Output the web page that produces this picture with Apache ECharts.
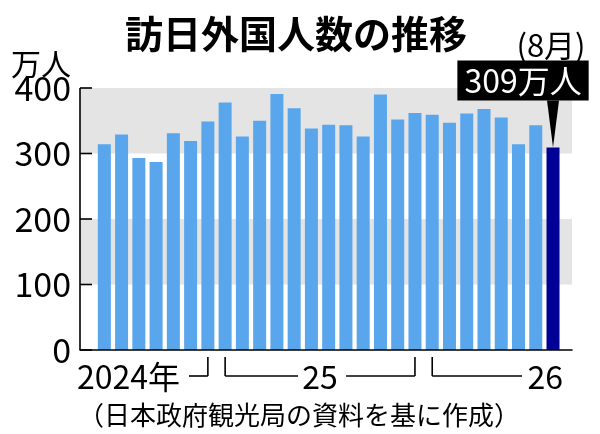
<!DOCTYPE html>
<html>
<head>
<meta charset="utf-8">
<script src="https://cdn.jsdelivr.net/npm/echarts@6/dist/echarts.min.js"></script>
<style>
  html, body { margin: 0; padding: 0; background: #fff; }
  #chart { width: 600px; height: 434px; }
</style>
</head>
<body>
<div id="chart"></div>
<script>
// 月（2024年6月〜2026年8月）
const months = [
    '2024-06', '2024-07', '2024-08', '2024-09', '2024-10', '2024-11', '2024-12',
    '2025-01', '2025-02', '2025-03', '2025-04', '2025-05', '2025-06',
    '2025-07', '2025-08', '2025-09', '2025-10', '2025-11', '2025-12',
    '2026-01', '2026-02', '2026-03', '2026-04', '2026-05', '2026-06', '2026-07', '2026-08',
];
// 訪日外国人数（万人）
const visitors = [
    314, 329, 293, 287, 331, 319, 349,
    378, 326, 350, 391, 369, 338,
    344, 343, 326, 390, 352, 362,
    359, 347, 361, 368, 355, 314, 343, 309,
];
const yTicks = [0, 100, 200, 300, 400];
const yearLabels = { '2024': '2024年', '2025': '25', '2026': '26' };

const FONT = "'Noto Sans CJK JP', sans-serif";
const last = visitors.length - 1;
const yMin = yTicks[0];
const yMax = yTicks[yTicks.length - 1];
const GRID = { left: 80, right: 28, top: 88, bottom: 84 };

const chart = echarts.init(document.getElementById('chart'), null, { renderer: 'canvas' });

chart.setOption({
    animation: false,
    grid: GRID,
    xAxis: {
        type: 'value',
        z: 3,
        min: -1.41,
        max: 27.1,
        axisLine: { show: true, onZero: false, lineStyle: { color: '#000', width: 1.6 } },
        axisTick: { show: false },
        axisLabel: { show: false },
        splitLine: { show: false },
    },
    yAxis: {
        type: 'value',
        min: yMin,
        max: yMax,
        interval: 100,
        axisLine: { show: false, onZero: false },
        axisTick: { show: false },
        axisLabel: { color: '#000', fontSize: 34, fontFamily: FONT, margin: 9 },
        splitLine: { show: false },
        splitArea: { show: true, areaStyle: { color: ['#ffffff', '#e4e4e4'] } },
    },
    series: [
        {
            type: 'bar',
            barWidth: 13,
            itemStyle: { color: '#5aa6ec' },
            data: visitors.map((v, i) => {
                if (i !== last) return [i, v];
                return {
                    value: [i, v],
                    itemStyle: { color: '#000096' },
                    label: {
                        show: true,
                        position: 'top',
                        distance: 47,
                        offset: [-30, 0],
                        formatter: (p) => p.value[1] + '万人',
                        color: '#fff',
                        backgroundColor: '#000',
                        padding: [3, 7, 3, 7],
                        fontSize: 32,
                        fontFamily: FONT,
                        lineHeight: 34,
                    },
                };
            }),
            markPoint: {
                silent: true,
                symbol: 'triangle',
                symbolRotate: 180,
                symbolSize: [12, 47],
                symbolOffset: [0, -23.5],
                itemStyle: { color: '#000' },
                label: { show: false },
                data: [{ coord: [last, visitors[last]] }],
            },
        },
    ],
});

const lineStyle = { stroke: '#000', lineWidth: 1.6 };
const line = (x1, y1, x2, y2) => ({ type: 'line', z: 10, shape: { x1, y1, x2, y2 }, style: lineStyle });

// 縦軸の線と目盛り
const axisX = GRID.left;
const axisTop = GRID.top;
const axisBottom = 434 - GRID.bottom;
const tickY = (t) => axisBottom - (t - yMin) / (yMax - yMin) * (axisBottom - axisTop);
const elements = [line(axisX, axisTop, axisX, axisBottom)];
yTicks.forEach((t) => elements.push(line(axisX, tickY(t), axisX + 12, tickY(t))));

// 年ごとの括弧と文字
const px = (i) => chart.convertToPixel({ xAxisIndex: 0 }, i);
const groups = [];
months.forEach((m, i) => {
    const y = m.slice(0, 4);
    const g = groups[groups.length - 1];
    if (g && g.year === y) g.end = i;
    else groups.push({ year: y, start: i, end: i });
});

const bTop = 357, bBot = 376, textY = 377;
const textStyle = (text, x, align) => ({
    type: 'text',
    x: x,
    y: textY,
    style: { text: text, fill: '#000', font: '32px ' + FONT, align: align, verticalAlign: 'middle' },
});

groups.forEach((g, gi) => {
    const x0 = px(g.start), x1 = px(g.end);
    const label = yearLabels[g.year];
    if (gi === 0) {
        // 「2024年」┘
        elements.push(textStyle(label, 77, 'left'));
        elements.push(line(189, bBot, x1, bBot));
        elements.push(line(x1, bTop, x1, bBot));
    } else if (gi === groups.length - 1) {
        // └── 26
        const tx = x1 + 10;
        elements.push(line(x0, bTop, x0, bBot));
        elements.push(line(x0, bBot, tx - 41, bBot));
        elements.push(textStyle(label, tx, 'right'));
    } else {
        // └── 25 ──┘
        const mid = (x0 + x1) / 2;
        elements.push(line(x0, bTop, x0, bBot));
        elements.push(line(x0, bBot, mid - 22, bBot));
        elements.push(textStyle(label, mid, 'center'));
        elements.push(line(mid + 26, bBot, x1, bBot));
        elements.push(line(x1, bTop, x1, bBot));
    }
});

chart.setOption({
    graphic: [
        {
            type: 'text', x: 296, y: 34,
            style: { text: '訪日外国人数の推移', fill: '#000', font: 'bold 38px ' + FONT, align: 'center', verticalAlign: 'middle' },
        },
        {
            type: 'text', x: 41, y: 64,
            style: { text: '万人', fill: '#000', font: '30px ' + FONT, align: 'center', verticalAlign: 'middle' },
        },
        {
            type: 'text', x: 551, y: 45,
            style: { text: '(8月)', fill: '#000', font: '31px ' + FONT, align: 'center', verticalAlign: 'middle' },
        },
        {
            type: 'text', x: 299, y: 415,
            style: { text: '（日本政府観光局の資料を基に作成）', fill: '#000', font: '26px ' + FONT, align: 'center', verticalAlign: 'middle' },
        },
        ...elements,
    ],
});
</script>
</body>
</html>
